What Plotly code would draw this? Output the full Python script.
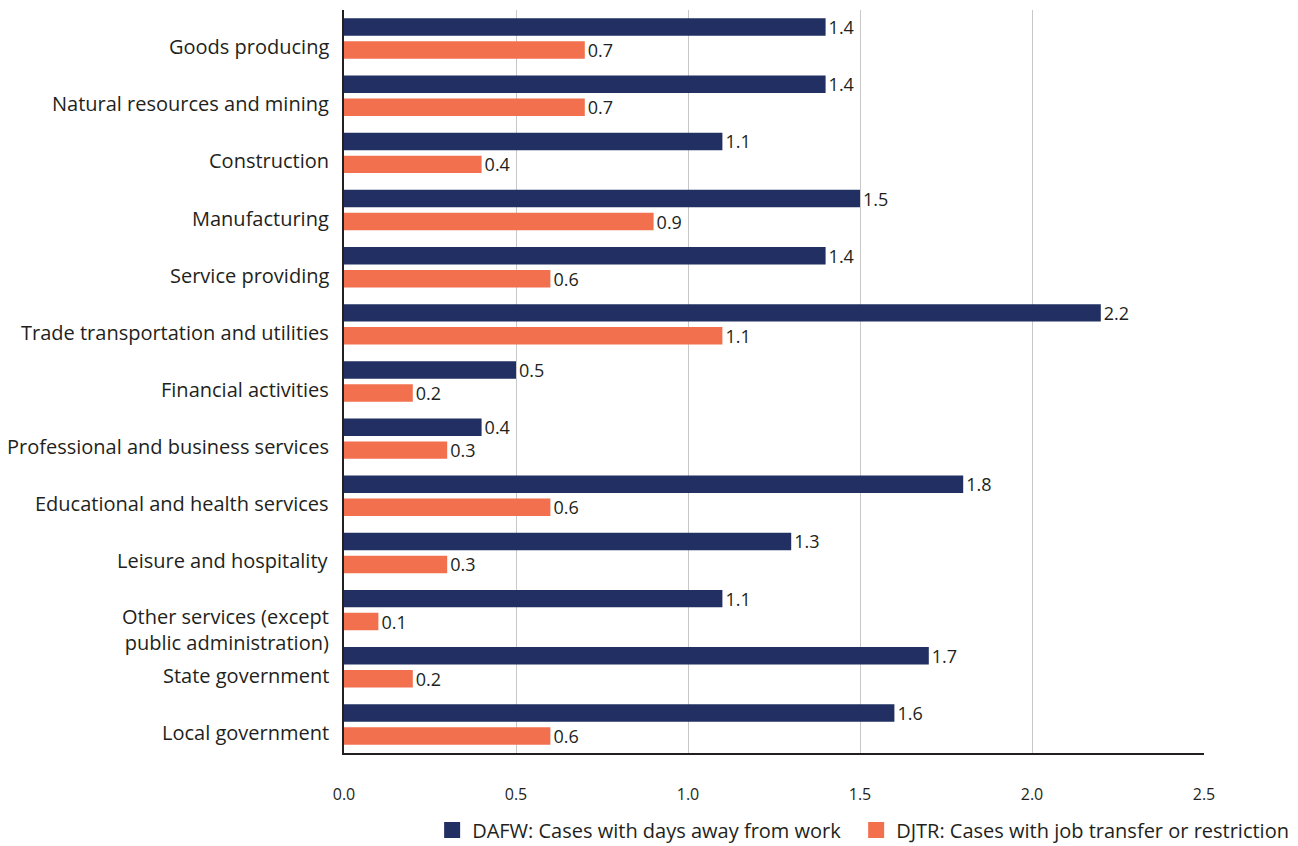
import plotly.graph_objects as go

categories = [
    "Goods producing",
    "Natural resources and mining",
    "Construction",
    "Manufacturing",
    "Service providing",
    "Trade transportation and utilities",
    "Financial activities",
    "Professional and business services",
    "Educational and health services",
    "Leisure and hospitality",
    "Other services (except<br>public administration)",
    "State government",
    "Local government",
]
dafw = [1.4, 1.4, 1.1, 1.5, 1.4, 2.2, 0.5, 0.4, 1.8, 1.3, 1.1, 1.7, 1.6]
djtr = [0.7, 0.7, 0.4, 0.9, 0.6, 1.1, 0.2, 0.3, 0.6, 0.3, 0.1, 0.2, 0.6]
series_names = ["DAFW: Cases with days away from work",
                "DJTR: Cases with job transfer or restriction"]
x_ticks = [0.0, 0.5, 1.0, 1.5, 2.0, 2.5]

NAVY = "#212f62"
ORANGE = "#f2704e"
TEXT = "#231f20"
FONT = "Open Sans"

fig = go.Figure()
for name, vals, col in [(series_names[0], dafw, NAVY), (series_names[1], djtr, ORANGE)]:
    fig.add_trace(go.Bar(
        y=categories, x=vals, orientation="h", name=name, showlegend=False,
        marker=dict(color=col, line=dict(width=0)),
        text=[f"{v:.1f}" for v in vals], textposition="outside", constraintext="none",
        textfont=dict(size=18, color=TEXT, family=FONT), cliponaxis=False,
    ))
# legend entries with larger square swatches (extra spacing after first entry)
for name, col, pad in [(series_names[0], NAVY, "\u00a0\u00a0"), (series_names[1], ORANGE, "")]:
    fig.add_trace(go.Scatter(
        x=[None], y=[None], mode="markers", name=name + pad,
        marker=dict(symbol="square", size=20, color=col),
    ))

for c in categories:
    multi = "<br>" in c
    fig.add_annotation(
        x=0, xref="x", y=c, yref="y", text=c, showarrow=False,
        xanchor="right", yanchor="middle", align="right",
        xshift=-13, yshift=-19 if multi else -8,
        font=dict(size=20, color=TEXT, family=FONT),
    )

fig.update_layout(
    width=1290, height=838,
    margin=dict(l=336, r=94, t=2, b=93),
    paper_bgcolor="white", plot_bgcolor="white",
    barmode="group", bargap=0.196, bargroupgap=0.24,
    font=dict(family=FONT, color=TEXT),
    showlegend=True,
    legend=dict(
        orientation="h", xref="container", yref="container",
        x=0.997, xanchor="right", y=0.019, yanchor="middle",
        font=dict(size=20, color=TEXT, family=FONT),
        traceorder="normal", itemsizing="trace", itemwidth=30,
        bgcolor="rgba(0,0,0,0)",
    ),
)
fig.update_xaxes(
    range=[0, 2.5], tickvals=x_ticks, ticktext=[f"{v:.1f}" for v in x_ticks],
    showgrid=True, gridcolor="#c8c8c8", gridwidth=1,
    showline=True, linecolor=TEXT, linewidth=2,
    zeroline=False, ticks="", ticklabelstandoff=26,
    tickfont=dict(size=16, color=TEXT, family=FONT),
)
fig.update_yaxes(
    autorange="reversed", showticklabels=False,
    showline=True, linecolor=TEXT, linewidth=2,
    showgrid=False, zeroline=False, ticks="",
)

fig.write_html("out.html")
